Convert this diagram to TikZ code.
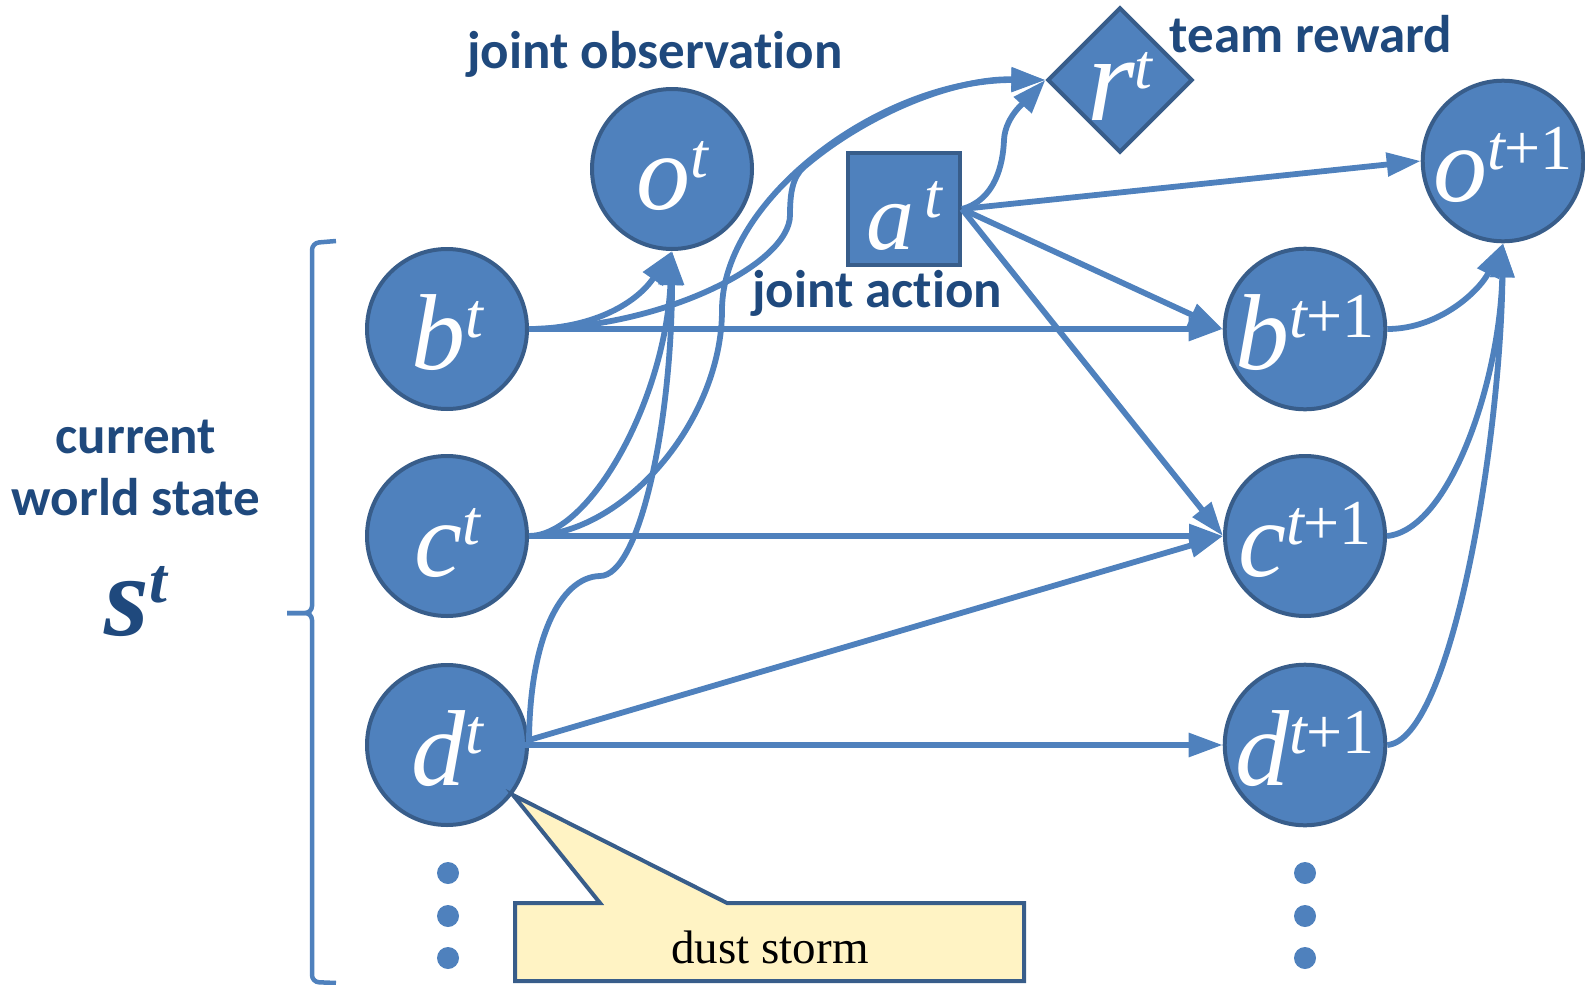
\documentclass[tikz,border=0pt]{standalone}
\usepackage{fontspec}
\setmainfont{Liberation Serif}
\newfontfamily\labfont{Carlito}[Ligatures=NoCommon]
\usetikzlibrary{arrows.meta,shapes.geometric}

\definecolor{nodefill}{HTML}{4F81BD}
\definecolor{nodeline}{HTML}{385D8A}
\definecolor{edgecol}{HTML}{4F81BD}
\definecolor{labcol}{HTML}{1F497D}
\definecolor{notefill}{HTML}{FFF3C4}

% variable with a superscript: \varsym[size]{letter}{superscript};
% the box is given a fixed height so that its baseline sits 40pt below the node centre
\newcommand{\varsym}[3][108pt]{\raisebox{0pt}[80pt][0pt]{{\fontsize{#1}{#1}\selectfont\itshape #2}\raisebox{32pt}{\fontsize{64pt}{64pt}\selectfont #3}}}

\tikzset{
  statenode/.style={circle, draw=nodeline, fill=nodefill, line width=4pt,
    minimum size=160pt, inner sep=0pt, text=white},
  link/.style={draw=edgecol, line width=5.8pt, -{Triangle[length=34pt,width=23pt]}},
  bracketline/.style={draw=edgecol, line width=4.5pt, rounded corners=7pt},
  lbl/.style={text=labcol, anchor=base,
    font={\labfont\bfseries\fontsize{53pt}{56pt}\selectfont}},
}

\begin{document}
\begin{tikzpicture}[x=1pt,y=-1pt]
\useasboundingbox (0,0) rectangle (1585,985);

% ---- state variables at time t
\node[statenode] (b) at (447,329) {\varsym{b}{\itshape t}};
\node[statenode] (c) at (447,536) {\varsym{c}{\itshape t}};
\node[statenode] (d) at (447,745) {\varsym{d}{\itshape t}};
\node[statenode] (o) at (672,169) {\varsym{o}{\itshape t}};

% ---- state variables at time t+1
\node[statenode] (b1) at (1305,329) {\varsym{b}{{\itshape t}+1}};
\node[statenode] (c1) at (1305,536) {\varsym{c}{{\itshape t}+1}};
\node[statenode] (d1) at (1305,745) {\varsym{d}{{\itshape t}+1}};
\node[statenode] (o1) at (1503,161) {\varsym{o}{{\itshape t}+1}};

% ---- joint action and team reward
\node[rectangle, draw=nodeline, fill=nodefill, line width=4pt,
  minimum size=112pt, inner sep=0pt, text=white] (a) at (904,209)
  {\varsym[96pt]{a}{\hspace{10pt}\itshape t}};
\node[diamond, draw=nodeline, fill=nodefill, line width=4pt,
  minimum width=142pt, minimum height=144pt, inner sep=0pt, text=white] (r) at (1120,80)
  {\varsym[122pt]{r}{\itshape t}};

% ---- labels
\node[lbl] (jo) at (655,68) {joint observation};
\node[lbl] (tr) at (1311,52) {team reward};
\node[lbl] (ja) at (877,307) {joint action};
\node[lbl] (cur) at (136,453) {current};
\node[lbl] (ws) at (136,515) {world state};
\node[text=labcol, anchor=base] (s) at (136,635)
  {{\fontsize{115pt}{115pt}\selectfont\bfseries\itshape s}\raisebox{33pt}{\fontsize{64pt}{64pt}\selectfont\bfseries\itshape t}};

% ---- bracket grouping the current world state
\draw[bracketline] (336,241) -- (312,243) -- (312,613) -- (287,613);
\draw[bracketline] (287,613) -- (312,613) -- (312,982) -- (336,983);

% ---- ellipsis dots
\foreach \yy in {873,916,958} {
  \fill[edgecol] (448,\yy) circle (11pt);
  \fill[edgecol] (1305,\yy) circle (11pt);
}

% ---- transitions t -> t+1
\draw[link] (b.east) -- (b1.west);
\draw[link] (c.east) -- (c1.west);
\draw[link] ([xshift=50pt]d.center) -- (d1.west);
\draw[link] ([yshift=5pt]d.east) -- (c1.west);
\draw[link] (a.east) -- (o1.west);
\draw[link] (a.east) -- (b1.west);
\draw[link] (a.east) -- (c1.west);

% ---- observation at time t
\draw[link] (b.east) .. controls (590,329) and (635,305) .. (o.south);
\draw[link] (c.east) .. controls (590,536) and (665,400) .. (o.south);
\draw[link] (d.east) .. controls (529,640) and (560,577) .. (600,576)
  .. controls (640,576) and (672,420) .. (o.south);

% ---- reward
\draw[link] (c.east) .. controls (624,536) and (722,420) .. (722,310)
  .. controls (722,200) and (880,80) .. (r.west);
\draw[link] (b.east) .. controls (659,329) and (790,265) .. (790,215)
  .. controls (790,195) and (792,177) .. (804,167)
  .. controls (866,114) and (954,78) .. (r.west);
\draw[link] (a.east) .. controls (995,200) and (1003,165) .. (1004,140)
  .. controls (1005,115) and (1030,97) .. (r.west);

% ---- observation at time t+1
\draw[link] (b1.east) .. controls (1440,329) and (1480,290) .. (o1.south);
\draw[link] (c1.east) .. controls (1450,530) and (1500,380) .. (o1.south);
\draw[link] (d1.east) .. controls (1450,740) and (1500,450) .. (o1.south);

% ---- callout
\draw[line width=4pt, draw=nodeline, fill=notefill, line join=miter]
  (515,903) -- (600,903) -- (513,795) -- (727,903) -- (1024,903)
  -- (1024,981) -- (515,981) -- cycle;
\node (dust) at (770,947) {\fontsize{47pt}{47pt}\selectfont dust storm};
\end{tikzpicture}
\end{document}
